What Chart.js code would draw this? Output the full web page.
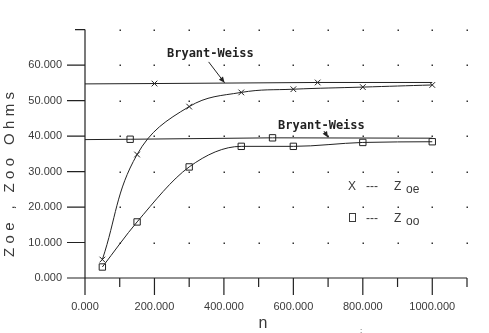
<!DOCTYPE html>
<html>
<head>
<meta charset="utf-8">
<script src="https://cdn.jsdelivr.net/npm/chart.js@4/dist/chart.umd.min.js"></script>
<style>
  html, body { margin: 0; padding: 0; background: #fff; }
  #wrap { width: 489px; height: 333px; }
</style>
</head>
<body>
<div id="wrap"><canvas id="c" width="489" height="333"></canvas></div>
<script>
// ---- data ----
const nCurve = [50, 150, 300, 450, 600, 800, 1000];
const zoeValues = [5.2, 34.8, 48.3, 52.3, 53.2, 53.8, 54.4];
const zooValues = [3.1, 15.8, 31.3, 37.1, 37.1, 38.2, 38.4];

const nBwZoe = [0, 200, 670, 1000];
const bwZoeValues = [54.7, 54.8, 55.1, 55.1];
const bwZoeMarker = [false, true, true, false];

const nBwZoo = [0, 130, 540, 1000];
const bwZooValues = [39.0, 39.1, 39.5, 39.4];
const bwZooMarker = [false, true, true, false];

const xTickValues = [0, 100, 200, 300, 400, 500, 600, 700, 800, 900, 1000, 1100];
const xTickLabels = ['0.000', '', '200.000', '', '400.000', '', '600.000', '', '800.000', '', '1000.000', ''];
const yTickValues = [0, 10, 20, 30, 40, 50, 60, 70];
const yTickLabels = ['0.000', '10.000', '20.000', '30.000', '40.000', '50.000', '60.000', ''];

const yTitle = 'Zoe , Zoo Ohms';
const xTitle = 'n';
const bwLabel = 'Bryant-Weiss';

const INK = '#222';
const TXT = '#3a3a3a';

function pts(xs, ys) { return xs.map((x, i) => ({ x: x, y: ys[i] })); }

function drawArrow(ctx, x1, y1, x2, y2) {
  ctx.beginPath(); ctx.moveTo(x1, y1); ctx.lineTo(x2, y2); ctx.stroke();
  const a = Math.atan2(y2 - y1, x2 - x1), L = 6, W = 2.6;
  ctx.beginPath();
  ctx.moveTo(x2, y2);
  ctx.lineTo(x2 - L * Math.cos(a) + W * Math.sin(a), y2 - L * Math.sin(a) - W * Math.cos(a));
  ctx.lineTo(x2 - L * Math.cos(a) - W * Math.sin(a), y2 - L * Math.sin(a) + W * Math.cos(a));
  ctx.closePath(); ctx.fill();
}

const decor = {
  id: 'decor',
  beforeDatasetsDraw(chart) {
    const ctx = chart.ctx, xs = chart.scales.x, ys = chart.scales.y;
    ctx.save();
    // dotted grid at tick intersections
    ctx.fillStyle = '#333';
    for (const xv of xTickValues) {
      if (xv === 0) continue;
      for (const yv of yTickValues) {
        if (yv === 0) continue;
        ctx.fillRect(Math.round(xs.getPixelForValue(xv)) - 0.5, Math.round(ys.getPixelForValue(yv)) - 0.5, 1.5, 1.5);
      }
    }
    // axes
    ctx.strokeStyle = INK; ctx.lineWidth = 1.2;
    const x0 = xs.getPixelForValue(0), y0 = ys.getPixelForValue(0);
    const yTop = ys.getPixelForValue(70), xEnd = xs.getPixelForValue(1100);
    ctx.beginPath();
    ctx.moveTo(x0, yTop); ctx.lineTo(x0, y0);
    ctx.moveTo(x0 - 18, y0); ctx.lineTo(xEnd, y0);
    ctx.stroke();
    // y ticks
    ctx.beginPath();
    for (const yv of yTickValues) {
      if (yv === 0) continue;
      const py = ys.getPixelForValue(yv);
      const len = yv === 70 ? 10 : 18;
      ctx.moveTo(x0 - len, py); ctx.lineTo(x0, py);
    }
    // x ticks
    for (const xv of xTickValues) {
      const px = xs.getPixelForValue(xv);
      const len = (xv % 200 === 0) ? 17 : 9;
      ctx.moveTo(px, y0); ctx.lineTo(px, y0 + len);
    }
    ctx.stroke();
    ctx.restore();
  },
  afterDatasetsDraw(chart) {
    const ctx = chart.ctx, xs = chart.scales.x, ys = chart.scales.y;
    const X = v => xs.getPixelForValue(v), Y = v => ys.getPixelForValue(v);
    ctx.save();
    // Bryant-Weiss labels and arrows
    ctx.fillStyle = INK; ctx.strokeStyle = INK; ctx.lineWidth = 1;
    ctx.font = 'bold 12px "DejaVu Sans Mono"';
    ctx.textBaseline = 'middle'; ctx.textAlign = 'left';
    ctx.fillText(bwLabel, X(236), Y(63.2));
    ctx.fillText(bwLabel, X(556), Y(42.8));
    drawArrow(ctx, X(356), Y(60.9), X(402), Y(55.0));
    drawArrow(ctx, X(688), Y(41.4), X(700), Y(39.6));
    // legend
    ctx.fillStyle = TXT; ctx.strokeStyle = TXT;
    ctx.font = '12px "Liberation Sans"';
    ctx.textBaseline = 'alphabetic'; ctx.textAlign = 'left';
    ctx.fillText('X', 348, 190);
    ctx.fillText('---', 366, 190);
    ctx.fillText('Z', 394, 190);
    ctx.fillText('oe', 406, 193);
    ctx.lineWidth = 1;
    ctx.strokeRect(349.5, 213.5, 6, 8);
    ctx.fillText('---', 366, 222);
    ctx.fillText('Z', 394, 222);
    ctx.fillText('oo', 406, 225);
    // y title (rotated, spread)
    ctx.save();
    ctx.translate(14, 257);
    ctx.rotate(-Math.PI / 2);
    ctx.font = '15px "Liberation Sans"';
    ctx.textBaseline = 'alphabetic';
    const chars = yTitle.split('');
    const widths = chars.map(c => ctx.measureText(c).width);
    const total = widths.reduce((a, b) => a + b, 0);
    const gap = (165 - total) / (chars.length - 1);
    let cx = 0;
    chars.forEach((c, i) => { ctx.fillText(c, cx, 0); cx += widths[i] + gap; });
    ctx.restore();
    // x title
    ctx.font = '16px "Liberation Sans"';
    ctx.textAlign = 'center';
    ctx.fillText(xTitle, 263, 328);
    ctx.font = '8px "Liberation Sans"';
    ctx.fillText(':', 361, 333);
    ctx.restore();
  }
};

const lineBase = { borderColor: INK, backgroundColor: 'rgba(0,0,0,0)', borderWidth: 1, showLine: true,
  pointBorderColor: INK, pointBackgroundColor: 'rgba(0,0,0,0)', pointBorderWidth: 1, pointHoverRadius: 0 };

new Chart(document.getElementById('c'), {
  type: 'scatter',
  data: {
    datasets: [
      Object.assign({}, lineBase, { label: 'Zoe', data: pts(nCurve, zoeValues), tension: 0.4,
        pointStyle: 'crossRot', pointRadius: 4 }),
      Object.assign({}, lineBase, { label: 'Zoo', data: pts(nCurve, zooValues), cubicInterpolationMode: 'monotone',
        pointStyle: 'rect', pointRadius: 4.5 }),
      Object.assign({}, lineBase, { label: 'Bryant-Weiss Zoe', data: pts(nBwZoe, bwZoeValues), tension: 0,
        pointStyle: 'crossRot', pointRadius: bwZoeMarker.map(m => m ? 4 : 0) }),
      Object.assign({}, lineBase, { label: 'Bryant-Weiss Zoo', data: pts(nBwZoo, bwZooValues), tension: 0,
        pointStyle: 'rect', pointRadius: bwZooMarker.map(m => m ? 4.5 : 0) })
    ]
  },
  options: {
    responsive: false,
    animation: false,
    events: [],
    layout: { padding: { left: 0, top: 25, right: 1, bottom: 0 } },
    plugins: { legend: { display: false }, tooltip: { enabled: false } },
    scales: {
      x: {
        type: 'linear', min: 0, max: 1100,
        afterBuildTicks: s => { s.ticks = xTickValues.map(v => ({ value: v })); },
        afterFit: s => { s.height = 55; },
        grid: { display: false, drawTicks: false }, border: { display: false },
        ticks: { autoSkip: false, maxRotation: 0, padding: 22, color: TXT,
          font: { family: '"Liberation Sans"', size: 11 },
          callback: (v) => { const i = xTickValues.indexOf(v); return i >= 0 ? xTickLabels[i] : ''; } }
      },
      y: {
        type: 'linear', min: 0, max: 70,
        afterBuildTicks: s => { s.ticks = yTickValues.map(v => ({ value: v })); },
        afterFit: s => { s.width = 85; },
        grid: { display: false, drawTicks: false }, border: { display: false },
        ticks: { autoSkip: false, padding: 23, color: TXT,
          font: { family: '"Liberation Sans"', size: 11 },
          callback: (v) => { const i = yTickValues.indexOf(v); return i >= 0 ? yTickLabels[i] : ''; } }
      }
    }
  },
  plugins: [decor]
});
</script>
</body>
</html>
